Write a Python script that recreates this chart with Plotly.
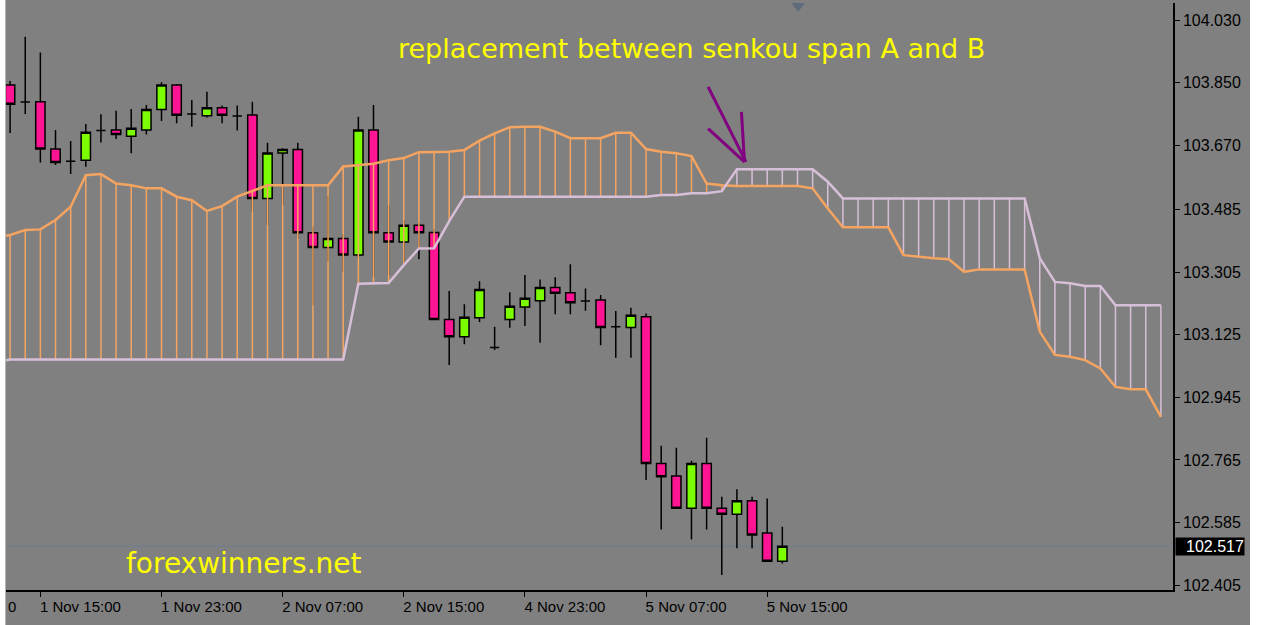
import plotly.graph_objects as go

# hourly bars, index 0 = 1 Nov 13:00
opens = [103.843, 103.794, 103.795, 103.659, 103.624, 103.627, 103.712, 103.714, 103.696, 103.714,
         103.773, 103.843, 103.760, 103.755, 103.778, 103.754, 103.757, 103.517, 103.648, 103.658,
         103.418, 103.376, 103.402, 103.354, 103.714, 103.418, 103.392, 103.440, 103.419, 103.169,
         103.119, 103.174, 103.088, 103.169, 103.205, 103.223, 103.261, 103.246, 103.222, 103.225,
         103.148, 103.146, 103.177, 102.755, 102.719, 102.626, 102.755, 102.626, 102.609, 102.648,
         102.555, 102.474]
highs = [103.855, 103.982, 103.937, 103.714, 103.682, 103.731, 103.759, 103.769, 103.774, 103.786,
         103.851, 103.846, 103.800, 103.824, 103.784, 103.784, 103.795, 103.677, 103.661, 103.677,
         103.436, 103.524, 103.414, 103.752, 103.786, 103.498, 103.455, 103.446, 103.429, 103.251,
         103.213, 103.279, 103.148, 103.247, 103.297, 103.284, 103.290, 103.328, 103.258, 103.239,
         103.193, 103.203, 103.186, 102.806, 102.800, 102.763, 102.829, 102.659, 102.681, 102.659,
         102.654, 102.573]
lows = [103.705, 103.760, 103.620, 103.613, 103.587, 103.608, 103.678, 103.688, 103.647, 103.701,
        103.740, 103.733, 103.723, 103.750, 103.733, 103.712, 103.479, 103.440, 103.498, 103.402,
        103.210, 103.335, 103.306, 103.346, 103.292, 103.297, 103.325, 103.342, 103.169, 103.038,
        103.098, 103.162, 103.081, 103.145, 103.150, 103.102, 103.184, 103.184, 103.194, 103.095,
        103.059, 103.059, 102.707, 102.565, 102.626, 102.536, 102.565, 102.434, 102.511, 102.511,
        102.474, 102.467]
closes = [103.788, 103.794, 103.659, 103.620, 103.624, 103.707, 103.712, 103.701, 103.719, 103.773,
          103.843, 103.756, 103.760, 103.778, 103.756, 103.754, 103.517, 103.648, 103.658, 103.418,
          103.376, 103.402, 103.354, 103.714, 103.418, 103.392, 103.440, 103.418, 103.169, 103.119,
          103.175, 103.255, 103.088, 103.207, 103.230, 103.261, 103.244, 103.217, 103.222, 103.146,
          103.148, 103.181, 102.755, 102.717, 102.626, 102.755, 102.626, 102.609, 102.648, 102.549,
          102.474, 102.517]

# ichimoku cloud, index -1 .. 76 (shifted 26 bars ahead)
span_a = [103.403, 103.412, 103.426, 103.428, 103.455, 103.493, 103.584, 103.587, 103.560, 103.555,
          103.546, 103.546, 103.522, 103.512, 103.481, 103.495, 103.522, 103.539, 103.555, 103.555,
          103.555, 103.555, 103.555, 103.609, 103.612, 103.617, 103.627, 103.633, 103.650, 103.651,
          103.651, 103.656, 103.683, 103.704, 103.722, 103.723, 103.723, 103.709, 103.690, 103.690,
          103.690, 103.706, 103.706, 103.659, 103.651, 103.647, 103.639, 103.560, 103.555, 103.553,
          103.553, 103.553, 103.553, 103.553, 103.546, 103.488, 103.434, 103.434, 103.434, 103.434,
          103.354, 103.349, 103.345, 103.342, 103.306, 103.313, 103.313, 103.313, 103.313, 103.134,
          103.067, 103.062, 103.052, 103.028, 102.975, 102.968, 102.968, 102.889]
span_b = [103.046] + [103.054] * 23 + [103.272, 103.274, 103.274, 103.325, 103.373, 103.374, 103.452] \
    + [103.522] * 13 + [103.527, 103.527, 103.532, 103.532, 103.538] + [103.601] * 6 \
    + [103.565] + [103.517] * 13 + [103.345, 103.277, 103.273, 103.265, 103.265, 103.210, 103.210,
                                    103.210, 103.210]

tick_idx = [2, 10, 18, 26, 34, 42, 50]
tick_text = ["1 Nov 15:00", "1 Nov 23:00", "2 Nov 07:00", "2 Nov 15:00",
             "4 Nov 23:00", "5 Nov 07:00", "5 Nov 15:00"]
price_ticks = [104.030, 103.850, 103.670, 103.485, 103.305, 103.125, 102.945, 102.765, 102.585, 102.405]
last_price = 102.517

ORANGE = "#f4a460"
THISTLE = "#d8bfd8"
BG = "#808080"
FONT = "Liberation Sans"

bars = list(range(len(opens)))
cloud_x = list(range(-1, len(span_a) - 1))

# histogram-style cloud fill
hx_a, hy_a, hx_b, hy_b = [], [], [], []
for x, a, b in zip(cloud_x, span_a, span_b):
    if a >= b:
        hx_a += [x, x, None]
        hy_a += [a, b, None]
    else:
        hx_b += [x, x, None]
        hy_b += [a, b, None]

fig = go.Figure()
fig.add_trace(go.Scatter(x=hx_a, y=hy_a, mode="lines", line=dict(color=ORANGE, width=1.5), hoverinfo="skip"))
fig.add_trace(go.Scatter(x=hx_b, y=hy_b, mode="lines", line=dict(color=THISTLE, width=1.5), hoverinfo="skip"))
fig.add_trace(go.Scatter(x=cloud_x, y=span_a, mode="lines", name="Senkou Span A",
                         line=dict(color=ORANGE, width=2.5)))
fig.add_trace(go.Scatter(x=cloud_x, y=span_b, mode="lines", name="Senkou Span B",
                         line=dict(color=THISTLE, width=2.5)))
fig.add_hline(y=last_price, line_color="#6d7d8f", line_width=1, layer="below")
fig.add_trace(go.Candlestick(
    x=bars, open=opens, high=highs, low=lows, close=closes,
    increasing=dict(fillcolor="#7cfc00", line=dict(color="black", width=1.5)),
    decreasing=dict(fillcolor="#ff1493", line=dict(color="black", width=1.5)),
    whiskerwidth=0))

fig.update_layout(
    width=1264, height=625,
    margin=dict(l=6, r=91, t=3, b=35),
    paper_bgcolor=BG, plot_bgcolor=BG,
    showlegend=False, boxgap=0.12,
    font=dict(family=FONT, size=15, color="black"),
    xaxis=dict(range=[-0.27, 76.8], tickvals=tick_idx, ticktext=tick_text, ticks="outside",
               ticklen=5, tickcolor="black", showgrid=False, zeroline=False, rangeslider_visible=False,
               showline=True, linecolor="black", linewidth=1.5, ticklabelshift=40,
               ticklabelstandoff=-3),
    yaxis=dict(range=[102.391, 104.079], side="right", tickvals=price_ticks,
               ticktext=[f"{v:.3f}" for v in price_ticks], ticks="outside", ticklen=5,
               tickcolor="black", showgrid=False, zeroline=False, showline=True, linecolor="black",
               linewidth=1.5, tickfont=dict(size=16)),
)

# current price tag
fig.add_annotation(xref="paper", x=1.002, y=last_price, text="102.517", showarrow=False, xanchor="left",
                   bgcolor="black", width=68, align="right", font=dict(color="white", size=16), borderpad=0)
# clipped first time label
fig.add_annotation(xref="paper", yref="paper", x=0.0, y=0, yshift=-16, yanchor="middle", text="0",
                   showarrow=False, xanchor="left", font=dict(size=15))

YELLOW = "#ffff00"
fig.add_annotation(x=25.5, y=103.949, text="replacement between senkou span A and B", showarrow=False,
                   xanchor="left", font=dict(family="DejaVu Sans", size=27, color=YELLOW))
fig.add_annotation(x=7.5, y=102.468, text="forexwinners.net", showarrow=False, xanchor="left",
                   font=dict(family="DejaVu Sans", size=28, color=YELLOW))

# hand-drawn arrow pointing at the crossover
PURPLE = "#800080"
for x0, y0, x1, y1 in [(46.1, 103.838, 48.6, 103.622), (48.3, 103.766, 48.5, 103.622),
                       (46.1, 103.718, 48.5, 103.622)]:
    fig.add_shape(type="line", x0=x0, y0=y0, x1=x1, y1=y1, line=dict(color=PURPLE, width=3))

# chart shift marker at top
fig.add_shape(type="path", xref="x", yref="paper", path="M 51.6 1 L 52.5 1 L 52.05 0.985 Z",
              fillcolor="#5f6b7a", line=dict(width=0))

# white window edges
fig.add_shape(type="rect", xref="paper", yref="paper", x0=1.066, x1=1.2, y0=-0.2, y1=1.2,
              fillcolor="white", line=dict(width=0), layer="above")
fig.add_shape(type="rect", xref="paper", yref="paper", x0=-0.1, x1=-0.0005, y0=-0.2, y1=1.2,
              fillcolor="white", line=dict(width=0), layer="above")

fig.write_html("out.html", config={"displayModeBar": False},
               post_script="document.body.style.margin='0';")
